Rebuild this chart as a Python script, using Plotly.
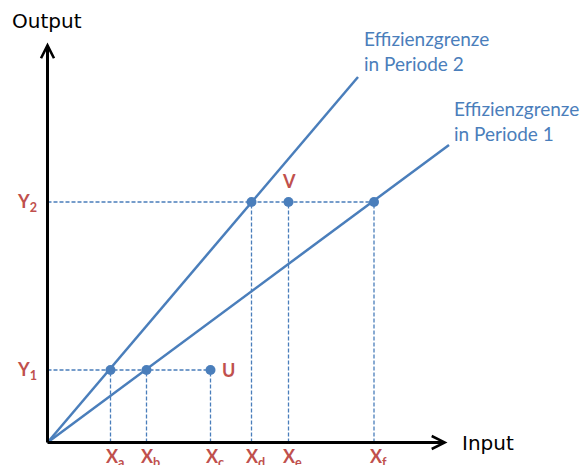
import plotly.graph_objects as go

# ---- data ----
point_x = [63, 99, 163, 204, 241, 326.5]
point_y = [72.5, 72.5, 72.5, 240.5, 240.5, 240.5]
x_tick_labels = ["X<sub>a</sub>", "X<sub>b</sub>", "X<sub>c</sub>",
                 "X<sub>d</sub>", "X<sub>e</sub>", "X<sub>f</sub>"]
output_levels = [72.5, 240.5]
y_tick_labels = ["Y<sub>1</sub>", "Y<sub>2</sub>"]
named_points = {2: "U", 4: "V"}

frontier1_x = [0, 401.5]
frontier1_y = [0, 297.5]
frontier2_x = [0, 310.5]
frontier2_y = [0, 365.5]
frontier1_label = "Effizienzgrenze<br>in Periode 1"
frontier2_label = "Effizienzgrenze<br>in Periode 2"

axis_max_x = 400
axis_max_y = 400

BLUE = "#4A7EBB"
RED = "#C0504D"

fig = go.Figure()

# dashed guide lines
dx, dy = [], []
for lvl in output_levels:
    xs = [x for x, y in zip(point_x, point_y) if y == lvl]
    dx += [0, max(xs), None]
    dy += [lvl, lvl, None]
for x, y in zip(point_x, point_y):
    dx += [x, x, None]
    dy += [0, y, None]
fig.add_trace(go.Scatter(x=dx, y=dy, mode="lines",
                         line=dict(color=BLUE, width=1.3, dash="4px,2px"),
                         hoverinfo="skip", showlegend=False))

# frontiers
fig.add_trace(go.Scatter(x=frontier1_x, y=frontier1_y, mode="lines",
                         line=dict(color=BLUE, width=2.5), showlegend=False))
fig.add_trace(go.Scatter(x=frontier2_x, y=frontier2_y, mode="lines",
                         line=dict(color=BLUE, width=2.5), showlegend=False))

# points
fig.add_trace(go.Scatter(x=point_x, y=point_y, mode="markers",
                         marker=dict(color=BLUE, size=10), showlegend=False))

anns = []
# axes with arrows
anns.append(dict(x=axis_max_x, y=0, ax=-1.5, ay=0, xref="x", yref="y",
                 axref="x", ayref="y", text="", showarrow=True,
                 arrowhead=5, arrowsize=0.85, arrowwidth=3, arrowcolor="black"))
anns.append(dict(x=0, y=axis_max_y, ax=0, ay=-1.5, xref="x", yref="y",
                 axref="x", ayref="y", text="", showarrow=True,
                 arrowhead=5, arrowsize=0.85, arrowwidth=3, arrowcolor="black"))
anns.append(dict(x=0, y=axis_max_y + 22, text="Output", showarrow=False,
                 xanchor="center", yanchor="middle", xshift=-1,
                 font=dict(family="DejaVu Sans", size=20, color="black")))
anns.append(dict(x=axis_max_x + 12, y=0, text="Input", showarrow=False,
                 xanchor="left", yanchor="middle",
                 font=dict(family="DejaVu Sans", size=20, color="black")))

redfont = dict(family="Lato", size=18, color=RED)
for x, lab in zip(point_x, x_tick_labels):
    anns.append(dict(x=x, y=-16, text="<b>" + lab + "</b>", showarrow=False,
                     xanchor="center", yanchor="middle", xshift=4, yshift=1,
                     font=redfont))
for y, lab in zip(output_levels, y_tick_labels):
    anns.append(dict(x=-9, y=y, text="<b>" + lab + "</b>", showarrow=False,
                     xanchor="right", yanchor="middle", yshift=0, font=redfont))
for i, name in named_points.items():
    if name == "U":
        anns.append(dict(x=point_x[i], y=point_y[i], text="<b>U</b>", showarrow=False,
                         xanchor="left", yanchor="middle", xshift=9, font=redfont))
    else:
        anns.append(dict(x=point_x[i], y=point_y[i], text="<b>V</b>", showarrow=False,
                         xanchor="center", yanchor="bottom", yshift=8, font=redfont))

bluefont = dict(family="Lato", size=19, color=BLUE)
anns.append(dict(x=314.5, y=417.5, text=frontier2_label, showarrow=False,
                 xanchor="left", yanchor="top", align="left", font=bluefont))
anns.append(dict(x=404.5, y=347.5, text=frontier1_label, showarrow=False,
                 xanchor="left", yanchor="top", align="left", font=bluefont))

fig.update_layout(
    width=581, height=465,
    margin=dict(l=0, r=0, t=0, b=0),
    paper_bgcolor="white", plot_bgcolor="white",
    xaxis=dict(range=[-47.5, 533.5], visible=False, fixedrange=True),
    yaxis=dict(range=[-22.5, 442.5], visible=False, fixedrange=True),
    annotations=anns,
    showlegend=False,
)

fig.write_html("out.html", config={"displayModeBar": False},
               post_script="document.body.style.margin='0px';document.body.style.overflow='hidden';")
